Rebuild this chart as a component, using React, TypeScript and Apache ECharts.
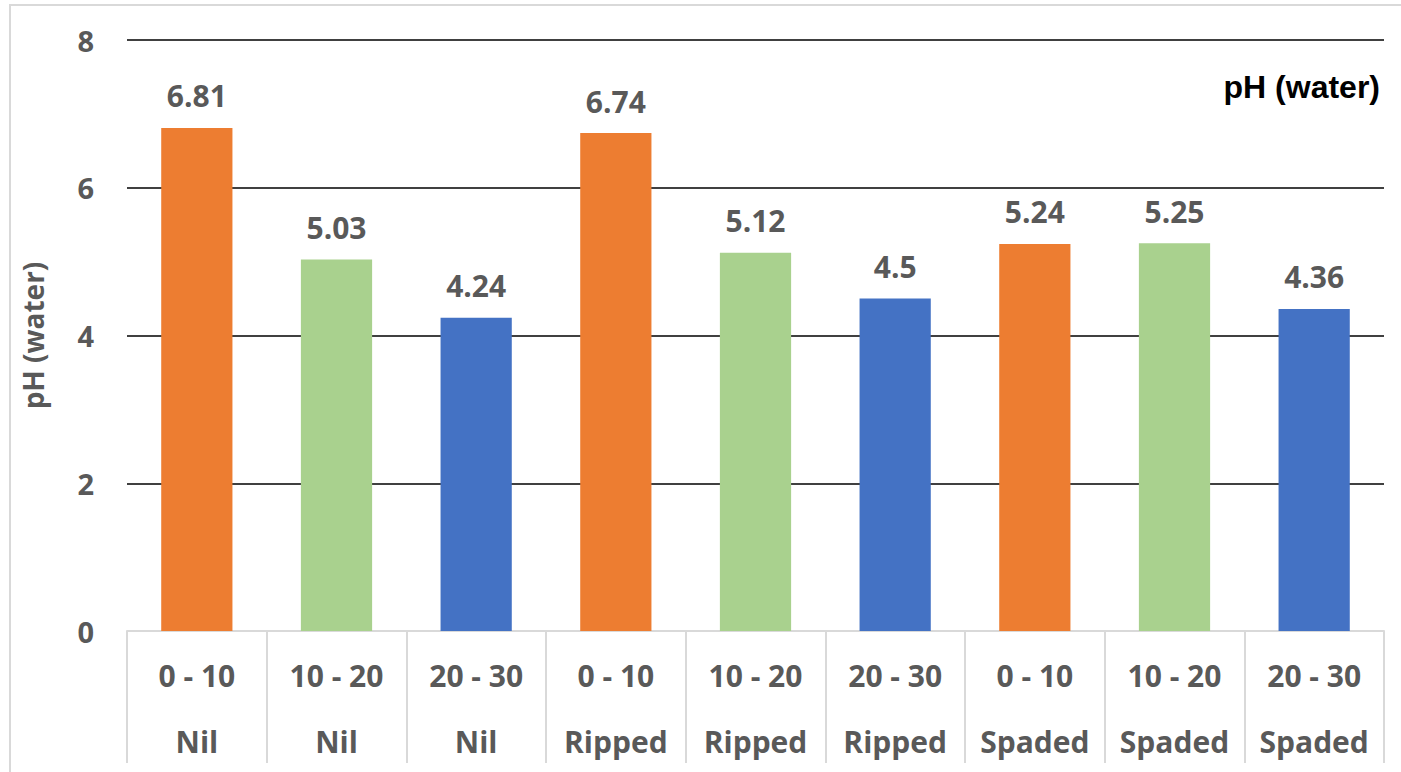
import React, { useEffect, useRef } from "react";
import * as echarts from "echarts";

// Soil pH (water) by depth and treatment
const depths = ["0 - 10", "10 - 20", "20 - 30", "0 - 10", "10 - 20", "20 - 30", "0 - 10", "10 - 20", "20 - 30"];
const treatments = ["Nil", "Nil", "Nil", "Ripped", "Ripped", "Ripped", "Spaded", "Spaded", "Spaded"];
const phValues = [6.81, 5.03, 4.24, 6.74, 5.12, 4.5, 5.24, 5.25, 4.36];
const depthColors: Record<string, string> = {
  "0 - 10": "#ED7D31",
  "10 - 20": "#A9D18E",
  "20 - 30": "#4472C4",
};
const yTicks = { min: 0, max: 8, interval: 2 };

const FONT = "'Open Sans', 'Noto Sans', sans-serif";
const GREY = "#595959";

export default function App() {
  const ref = useRef<HTMLDivElement>(null);

  useEffect(() => {
    if (!ref.current) return;
    const chart = echarts.init(ref.current, undefined, { renderer: "svg" });
    const categories = depths.map((d, i) => `${d}|${treatments[i]}`);

    chart.setOption({
      animation: false,
      backgroundColor: "#ffffff",
      grid: { left: 127, right: 17, top: 40, bottom: 141, containLabel: false },
      graphic: [
        {
          type: "rect",
          shape: { x: 10, y: 5, width: 1420, height: 800 },
          style: { fill: "none", stroke: "#d9d9d9", lineWidth: 2 },
          silent: true,
        },
        {
          type: "text",
          x: 1380,
          y: 87,
          style: {
            text: "pH (water)",
            font: "bold 32px 'Liberation Sans', Arial, sans-serif",
            fill: "#000000",
            textAlign: "right",
            textVerticalAlign: "middle",
          },
        },
      ],
      xAxis: {
        type: "category",
        data: categories,
        axisLine: { show: true, lineStyle: { color: "#d9d9d9", width: 2 } },
        axisTick: {
          show: true,
          interval: 0,
          length: 132,
          lineStyle: { color: "#d9d9d9", width: 2 },
        },
        axisLabel: {
          interval: 0,
          margin: 11,
          formatter: (v: string) => {
            const [d, t] = v.split("|");
            return `{d|${d}}\n{t|${t}}`;
          },
          rich: {
            d: { fontFamily: FONT, fontWeight: "bold", fontSize: 30, color: GREY, lineHeight: 66 },
            t: { fontFamily: FONT, fontWeight: "bold", fontSize: 30, color: GREY, lineHeight: 66 },
          },
        },
      },
      yAxis: {
        type: "value",
        min: yTicks.min,
        max: yTicks.max,
        interval: yTicks.interval,
        name: "pH (water)",
        nameLocation: "middle",
        nameRotate: 90,
        nameGap: 80,
        nameTextStyle: { fontFamily: FONT, fontWeight: "bold", fontSize: 28, color: GREY },
        axisLine: { show: false },
        axisTick: { show: false },
        axisLabel: { fontFamily: FONT, fontWeight: "bold", fontSize: 29, color: GREY, margin: 33 },
        splitLine: { show: true, showMinLine: false, lineStyle: { color: "#404040", width: 2 } },
      },
      series: [
        {
          type: "bar",
          barWidth: "51%",
          data: phValues.map((v, i) => ({
            value: v,
            itemStyle: { color: depthColors[depths[i]] },
          })),
          label: {
            show: true,
            position: "top",
            distance: 17,
            fontFamily: FONT,
            fontWeight: "bold",
            fontSize: 30,
            color: GREY,
          },
        },
      ],
    });

    return () => chart.dispose();
  }, []);

  return (
    <div
      ref={ref}
      style={{ position: "fixed", left: 0, top: 0, width: 1401, height: 772, background: "#fff" }}
    />
  );
}
